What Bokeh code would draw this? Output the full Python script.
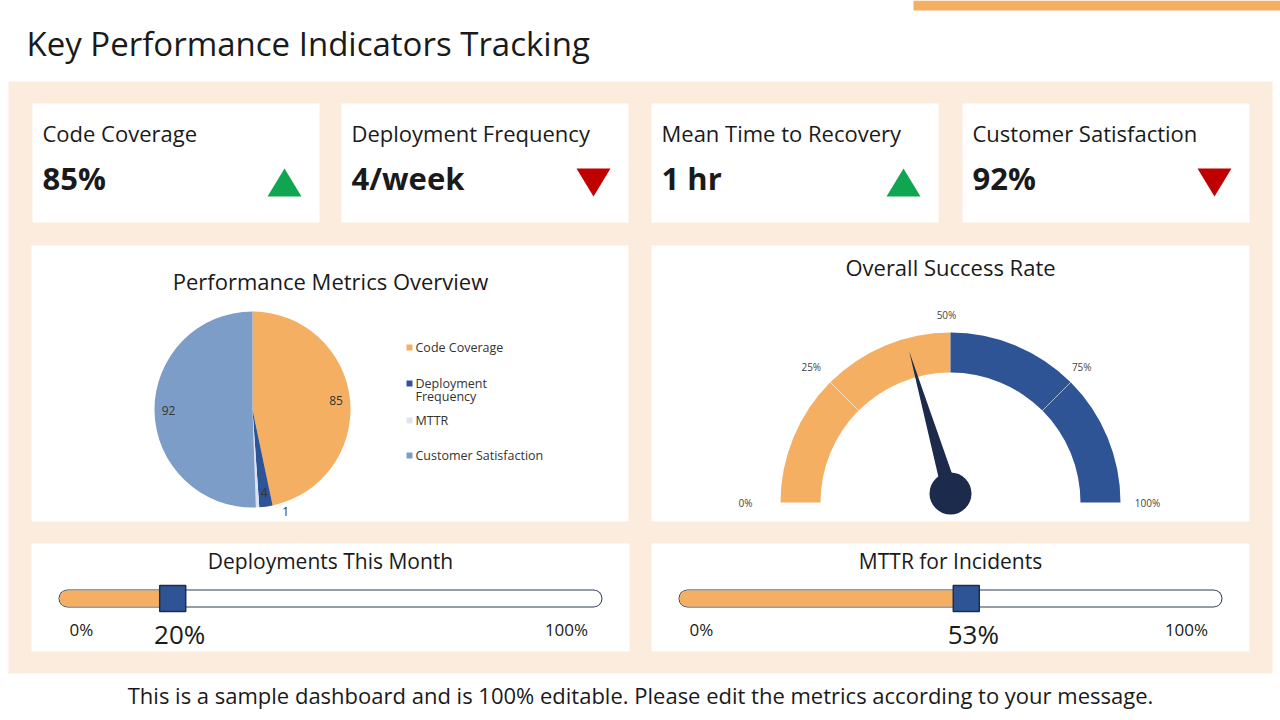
import numpy as np
from bokeh.plotting import figure
from bokeh.models import Range1d
from bokeh.core.properties import value
from bokeh.embed import file_html
from bokeh.resources import INLINE

# ---------------------------------------------------------------- data
kpi_names = ["Code Coverage", "Deployment Frequency", "Mean Time to Recovery", "Customer Satisfaction"]
kpi_values = ["85%", "4/week", "1 hr", "92%"]
kpi_trend = ["up", "down", "up", "down"]

pie_labels = ["Code Coverage", "Deployment\nFrequency", "MTTR", "Customer Satisfaction"]
pie_values = [85, 4, 1, 92]

gauge_ticks = [0, 25, 50, 75, 100]
gauge_band_edges = [0, 50, 100]
gauge_value = 41

slider_titles = ["Deployments This Month", "MTTR for Incidents"]
slider_values = [20, 53]

# ---------------------------------------------------------------- styles
W, H = 1280, 720
FONT = value("Open Sans")
ORANGE = "#F5AF63"
BLUE = "#2F5496"
NAVY = "#1C2B4B"
BEIGE = "#FBECDE"
PIE_COLORS = ["#F5AF63", "#2F5496", "#DCE4F1", "#7C9DC8"]
TEXT = "#1A1A1A"


def Y(v):
    return H - np.asarray(v, dtype=float)


p = figure(width=W, height=H, x_range=Range1d(0, W), y_range=Range1d(0, H),
           x_axis_type=None, y_axis_type=None, toolbar_location=None,
           output_backend="svg", min_border=0, outline_line_color=None,
           background_fill_color="white", border_fill_color="white")


def txt(x, y, s, size, color=TEXT, align="left", bold=False, baseline="middle", **kw):
    p.text(x=np.atleast_1d(x), y=Y(np.atleast_1d(y)), text=list(np.atleast_1d(s)),
           text_font=FONT, text_font_size=f"{size}px", text_color=color,
           text_align=align, text_baseline=baseline,
           text_font_style="bold" if bold else "normal", **kw)


def box(l, r, t, b, color):
    p.quad(left=l, right=r, top=Y(t), bottom=Y(b), fill_color=color, line_color=None)


# ---------------------------------------------------------------- frame
box(913, 1280, 0, 10, ORANGE)
txt(26, 43, "Key Performance Indicators Tracking", 33)
box(8, 1272, 81, 673, BEIGE)

# ---------------------------------------------------------------- KPI cards
card_left = [32, 341, 651, 962]
card_w = 287
for i, (name, val, trend) in enumerate(zip(kpi_names, kpi_values, kpi_trend)):
    l = card_left[i]
    box(l, l + card_w, 103, 222, "white")
    txt(l + 10, 132, name, 22)
    txt(l + 10, 177, val, 31, bold=True)
    cx = l + card_w - 35
    if trend == "up":
        p.patch(x=[cx - 17, cx + 17, cx], y=Y([196, 196, 168]), fill_color="#10A651", line_color=None)
    else:
        p.patch(x=[cx - 17, cx + 17, cx], y=Y([168, 168, 196]), fill_color="#C00000", line_color=None)

# ---------------------------------------------------------------- pie panel
box(31, 628, 245, 521, "white")
txt(330, 280, "Performance Metrics Overview", 22, align="center")

pcx, pcy, pr = 252, 409, 98
vals = np.array(pie_values, dtype=float)
frac = vals / vals.sum()
cum = np.concatenate([[0.0], np.cumsum(frac)])
start = np.pi / 2 - cum[1:] * 2 * np.pi
end = np.pi / 2 - cum[:-1] * 2 * np.pi
p.wedge(x=pcx, y=Y(pcy), radius=pr, start_angle=start, end_angle=end,
        fill_color=PIE_COLORS, line_color=None)

mid = (start + end) / 2
small = frac < 0.01
lab_r = np.where(small, pr + 4, 84)
lab_x = pcx + lab_r * np.cos(mid) + np.where(small, 28, 0)
lab_y = pcy - lab_r * np.sin(mid)
txt(lab_x, lab_y, [str(v) for v in pie_values], 12, color="#333333", align="center")

leg_y = [347, 383, 420, 455]
p.rect(x=[409] * 4, y=Y(leg_y), width=6, height=6, fill_color=PIE_COLORS, line_color=None)
txt([415] * 4, np.array(leg_y) - 9, pie_labels, 12.5, color="#333333", baseline="top",
    text_line_height=0.8)

# ---------------------------------------------------------------- gauge panel
box(651, 1249, 245, 521, "white")
txt(950, 266, "Overall Success Rate", 22, align="center")

gcx, gcy, g_in, g_out = 950, 502, 130, 170


def ang(pct):
    return np.pi * (1 - np.asarray(pct, dtype=float) / 100)


edges = np.array(gauge_band_edges, dtype=float)
p.annular_wedge(x=gcx, y=Y(gcy), inner_radius=g_in, outer_radius=g_out,
                start_angle=ang(edges[1:]), end_angle=ang(edges[:-1]),
                fill_color=[ORANGE, BLUE], line_color=None)

inner_ticks = np.array(gauge_ticks[1:-1], dtype=float)
inner_ticks = inner_ticks[inner_ticks != 50]
ta = ang(inner_ticks)
p.segment(x0=gcx + g_in * np.cos(ta), y0=Y(gcy) + g_in * np.sin(ta),
          x1=gcx + g_out * np.cos(ta), y1=Y(gcy) + g_out * np.sin(ta),
          line_color="white", line_alpha=0.6, line_width=1)

la = ang(gauge_ticks)
lr = 188 + 13 * np.cos(la) ** 4
txt(gcx - 4 + lr * np.cos(la), gcy - lr * np.sin(la), [f"{t}%" for t in gauge_ticks], 10,
    color="#444444", align="center")

# needle
hx, hy = 950, 493
na = float(ang(gauge_value))
nlen, nhw = 148, 8
tip = (hx + nlen * np.cos(na), Y(hy) + nlen * np.sin(na))
perp = (np.cos(na + np.pi / 2), np.sin(na + np.pi / 2))
p.patch(x=[hx + nhw * perp[0], tip[0], hx - nhw * perp[0]],
        y=[Y(hy) + nhw * perp[1], tip[1], Y(hy) - nhw * perp[1]],
        fill_color=NAVY, line_color=None)
p.circle(x=[hx], y=Y([hy]), radius=21, fill_color=NAVY, line_color=None)

# ---------------------------------------------------------------- sliders
panel_left = [31, 651]
track_left = [59, 679]
track_len = 542
cap = 8
for i, (title, v) in enumerate(zip(slider_titles, slider_values)):
    l = panel_left[i]
    box(l, l + 598, 543, 651, "white")
    txt(l + 299, 560, title, 21, align="center")
    edge0, edge1, ty = track_left[i], track_left[i] + track_len, 598
    t0, t1 = edge0 + cap, edge1 - cap
    pos = t0 + v / 100 * (t1 - t0)
    p.segment(x0=[t0], y0=Y([ty]), x1=[t1], y1=Y([ty]), line_color="#2B3A55",
              line_width=18, line_cap="round")
    p.segment(x0=[t0], y0=Y([ty]), x1=[t1], y1=Y([ty]), line_color="white",
              line_width=16, line_cap="round")
    p.segment(x0=[t0], y0=Y([ty]), x1=[pos], y1=Y([ty]), line_color=ORANGE,
              line_width=16, line_cap="round")
    p.rect(x=[pos], y=Y([ty]), width=26, height=26, fill_color=BLUE,
           line_color="#1F2D4D", line_width=1.5)
    txt(edge0 + 22, 629, "0%", 17, align="center")
    txt(edge1 - 35, 629, "100%", 17, align="center")
    txt(pos + 7, 633, f"{v}%", 26, align="center")

# ---------------------------------------------------------------- footer
txt(640, 694, "This is a sample dashboard and is 100% editable. Please edit the metrics according to your message.",
    22, align="center")

open("out.html", "w").write(file_html(p, INLINE))
